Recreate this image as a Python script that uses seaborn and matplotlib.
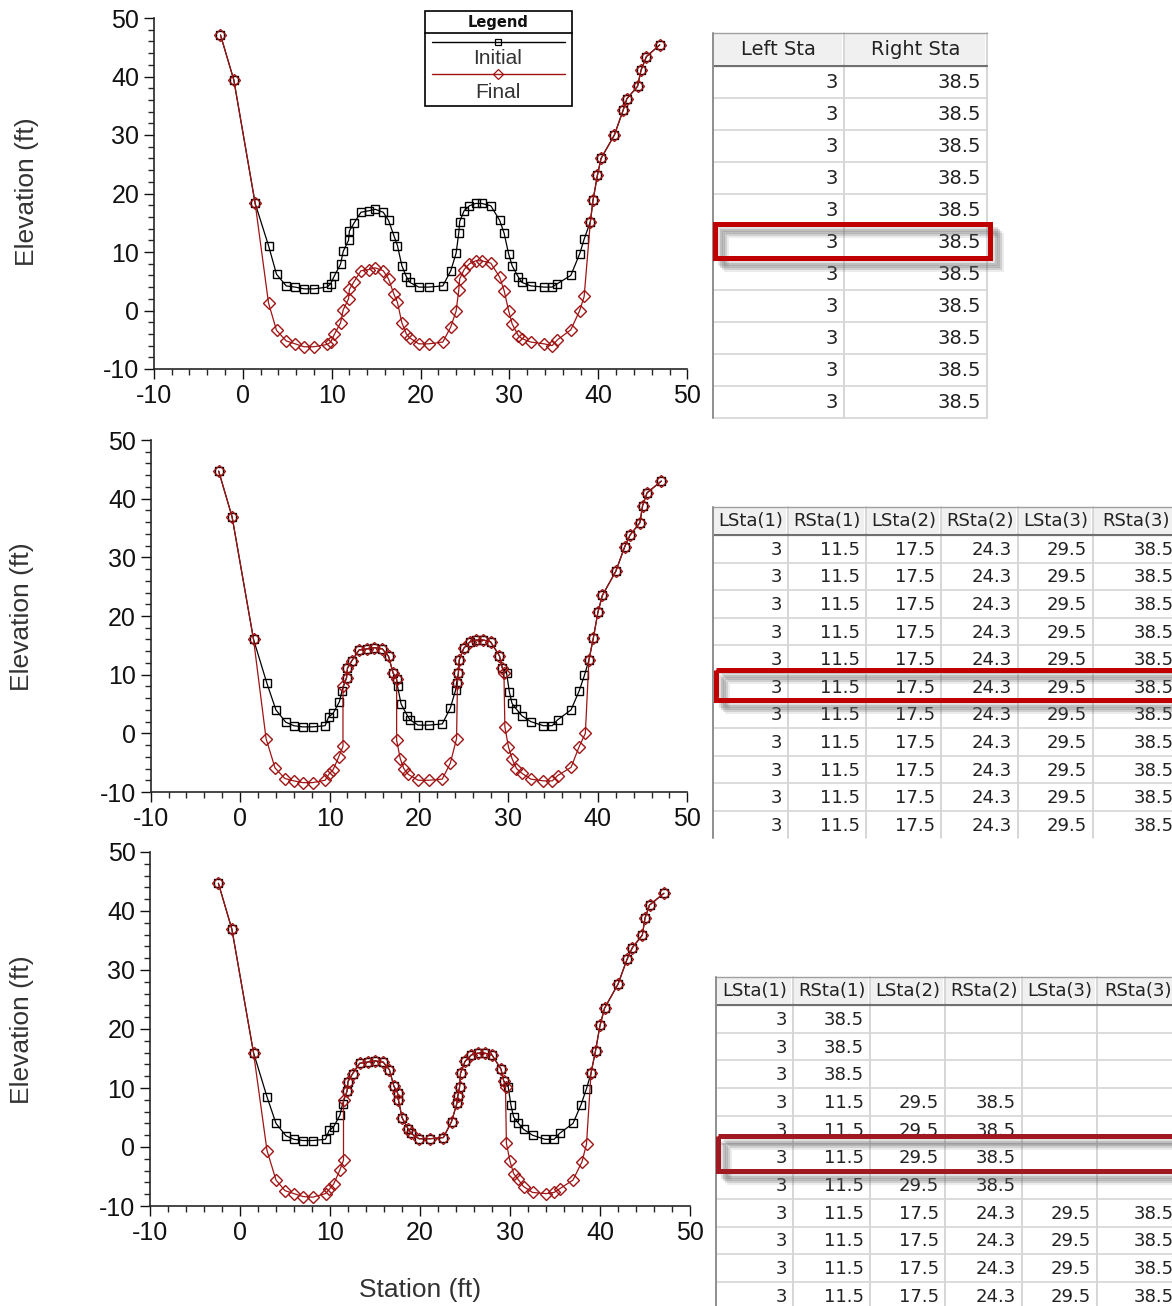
import matplotlib
matplotlib.use("Agg")
import matplotlib.pyplot as plt
import seaborn as sns
from matplotlib.patches import Rectangle
from matplotlib.lines import Line2D
from matplotlib.ticker import MultipleLocator

# ---- profile data ----
# top run: one scour window 3 - 38.5
sta_a = [-2.5, -1.0, 1.4, 2.9, 3.8, 4.9, 5.9, 6.9, 8.0, 9.5, 9.9, 10.3, 11.0, 11.3, 11.9, 12.0,
         12.5, 13.3, 14.2, 14.9, 15.8, 16.4, 17.0, 17.4, 17.9, 18.4, 18.8, 19.8, 20.9, 22.5,
         23.4, 24.0, 24.3, 24.4, 24.9, 25.5, 26.2, 26.9, 27.9, 28.9, 29.4, 29.9, 30.3, 31.0,
         31.4, 32.4, 33.9, 34.8, 35.4, 36.9, 37.9, 38.4, 39.1, 39.4, 39.9, 40.3, 41.8, 42.8,
         43.2, 44.4, 44.8, 45.4, 46.9]
elev_a_init = [47.1, 39.4, 18.3, 11.1, 6.2, 4.2, 4.0, 3.7, 3.7, 4.0, 4.6, 5.9, 7.9, 10.1, 12.0,
               13.6, 14.9, 16.8, 17.05, 17.3, 16.8, 15.4, 12.8, 11.1, 7.65, 5.8, 4.8, 4.0, 4.0,
               4.2, 6.8, 9.8, 13.3, 15.2, 17.05, 17.9, 18.3, 18.3, 17.9, 15.4, 13.2, 9.7, 7.65,
               5.7, 4.8, 4.2, 4.0, 4.0, 4.6, 6.0, 9.7, 12.2, 15.2, 18.9, 23.2, 26.0, 30.0, 34.3,
               36.2, 38.3, 41.1, 43.4, 45.4]
elev_a_final = [47.1, 39.4, 18.3, 1.3, -3.4, -5.2, -5.7, -6.2, -6.2, -5.8, -5.4, -4.1, -2.1, 0.1,
                2.0, 3.6, 4.9, 6.8, 7.0, 7.3, 6.8, 5.4, 2.8, 1.4, -2.1, -4.0, -4.7, -5.7, -5.7,
                -5.4, -2.8, -0.1, 3.5, 5.4, 7.0, 8.0, 8.5, 8.5, 8.1, 5.7, 3.4, 0.0, -2.3, -4.3,
                -4.8, -5.4, -5.7, -6.0, -5.0, -3.3, 0.0, 2.4, 15.2, 18.9, 23.2, 26.0, 30.0, 34.3,
                36.2, 38.3, 41.1, 43.4, 45.4]

# middle / bottom runs share the initial ground
sta_b = [-2.4, -0.9, 1.5, 3.0, 4.0, 5.1, 6.0, 7.0, 8.1, 9.5, 9.9, 10.4, 11.1, 11.4, 11.9, 12.0,
         12.5, 13.3, 14.2, 15.0, 15.9, 16.6, 17.1, 17.5, 17.6, 18.0, 18.7, 19.0, 19.9, 21.1,
         22.6, 23.5, 24.1, 24.2, 24.4, 24.5, 25.0, 25.7, 26.4, 27.2, 28.0, 29.0, 29.3, 29.8,
         30.1, 30.4, 30.9, 31.5, 32.5, 33.9, 34.9, 35.5, 37.0, 37.9, 38.5, 39.0, 39.5, 40.0,
         40.5, 42.0, 43.0, 43.6, 44.7, 45.0, 45.5, 47.1]
elev_b_init = [44.7, 36.9, 16.0, 8.5, 4.0, 1.9, 1.3, 1.1, 1.1, 1.3, 2.8, 3.4, 5.4, 7.3, 9.5, 11.1,
               12.4, 14.2, 14.4, 14.6, 14.4, 13.1, 10.3, 9.2, 8.0, 5.0, 3.0, 2.3, 1.4, 1.4, 1.6,
               4.3, 7.4, 8.6, 10.2, 12.5, 14.5, 15.6, 15.9, 15.9, 15.6, 13.2, 11.2, 10.2, 7.1,
               5.1, 4.1, 3.0, 2.0, 1.3, 1.3, 2.3, 4.0, 7.2, 9.9, 12.5, 16.3, 20.6, 23.5, 27.6,
               31.8, 33.8, 35.9, 38.8, 41.0, 43.0]

sta_b_fin2 = [-2.4, -0.9, 1.5, 2.9, 3.9, 5.0, 6.0, 7.0, 8.1, 9.5, 9.9, 10.4, 11.0, 11.5, 11.5,
              11.9, 12.0, 12.5, 13.3, 14.2, 15.0, 15.9, 16.6, 17.1, 17.5, 17.5, 17.9, 18.3, 18.8,
              19.9, 21.1, 22.6, 23.5, 24.2, 24.3, 24.4, 24.5, 25.0, 25.7, 26.4, 27.2, 28.0, 29.0,
              29.3, 29.5, 29.6, 30.0, 30.4, 30.9, 31.5, 32.5, 33.9, 34.9, 35.5, 37.0, 37.9, 38.6,
              39.0, 39.5, 40.0, 40.5, 42.0, 43.0, 43.6, 44.7, 45.0, 45.5, 47.1]
elev_b_fin2 = [44.7, 36.9, 16.0, -0.9, -5.9, -7.7, -8.1, -8.4, -8.4, -8.0, -7.0, -6.2, -4.1, -2.2,
               8.0, 9.5, 11.1, 12.4, 14.2, 14.4, 14.6, 14.4, 13.1, 10.3, 9.2, -1.2, -4.3, -6.0,
               -7.0, -8.0, -8.0, -7.8, -5.1, -0.9, 8.6, 10.2, 12.5, 14.5, 15.6, 15.9, 15.9, 15.6,
               13.2, 11.2, 10.2, 1.1, -2.3, -4.3, -6.0, -6.8, -7.8, -8.1, -8.1, -7.2, -5.8, -2.3,
               0.0, 12.5, 16.3, 20.6, 23.5, 27.6, 31.8, 33.8, 35.9, 38.8, 41.0, 43.0]

sta_b_fin3 = [-2.4, -0.9, 1.5, 3.0, 4.0, 5.0, 6.0, 7.0, 8.1, 9.5, 9.9, 10.4, 11.1, 11.5, 11.5,
              11.9, 12.0, 12.5, 13.3, 14.2, 15.0, 15.9, 16.6, 17.1, 17.5, 17.6, 18.0, 18.7, 19.0,
              19.9, 21.1, 22.6, 23.5, 24.1, 24.2, 24.4, 24.5, 25.0, 25.7, 26.4, 27.2, 28.0, 29.0,
              29.3, 29.5, 29.6, 30.0, 30.4, 30.9, 31.5, 32.5, 34.0, 34.9, 35.5, 37.0, 38.0, 38.5,
              39.0, 39.5, 40.0, 40.5, 42.0, 43.0, 43.6, 44.7, 45.0, 45.5, 47.1]
elev_b_fin3 = [44.7, 36.9, 16.0, -0.6, -5.6, -7.4, -7.9, -8.4, -8.5, -7.9, -7.2, -6.3, -3.9, -2.2,
               8.0, 9.5, 11.1, 12.4, 14.2, 14.4, 14.6, 14.4, 13.1, 10.3, 9.2, 8.0, 5.0, 3.0, 2.3,
               1.4, 1.4, 1.6, 4.3, 7.4, 8.6, 10.2, 12.5, 14.5, 15.6, 15.9, 15.9, 15.6, 13.2, 11.2,
               10.2, 0.6, -2.4, -4.5, -5.5, -6.7, -7.7, -7.9, -7.7, -7.1, -5.6, -2.5, 0.5, 12.5,
               16.3, 20.6, 23.5, 27.6, 31.8, 33.8, 35.9, 38.8, 41.0, 43.0]

# ---- station tables ----
tbl1_cols = ["Left Sta", "Right Sta"]
tbl1_rows = [["3", "38.5"], ["3", "38.5"], ["3", "38.5"], ["3", "38.5"], ["3", "38.5"],
             ["3", "38.5"], ["3", "38.5"], ["3", "38.5"], ["3", "38.5"], ["3", "38.5"],
             ["3", "38.5"]]
tbl_cols = ["LSta(1)", "RSta(1)", "LSta(2)", "RSta(2)", "LSta(3)", "RSta(3)"]
full_row = ["3", "11.5", "17.5", "24.3", "29.5", "38.5"]
tbl2_rows = [full_row] * 11
tbl3_rows = [["3", "38.5", "", "", "", ""], ["3", "38.5", "", "", "", ""],
             ["3", "38.5", "", "", "", ""],
             ["3", "11.5", "29.5", "38.5", "", ""], ["3", "11.5", "29.5", "38.5", "", ""],
             ["3", "11.5", "29.5", "38.5", "", ""], ["3", "11.5", "29.5", "38.5", "", ""],
             full_row, full_row, full_row, full_row]

INIT_C = "black"
FINAL_C = "#a01414"

sns.set_style("ticks")
plt.rcParams["font.family"] = ["Liberation Sans", "DejaVu Sans"]
plt.rcParams["axes.unicode_minus"] = False

W, H = 1172, 1306
fig = plt.figure(figsize=(W / 100, H / 100), dpi=100)


def rect(l, r, t, b):
    return [l / W, 1 - b / H, (r - l) / W, (b - t) / H]


def profile_axes(box, sta_i, el_i, sta_f, el_f):
    ax = fig.add_axes(rect(*box))
    sns.lineplot(x=sta_i, y=el_i, sort=False, estimator=None, ax=ax, color=INIT_C,
                 linewidth=0.9, marker="s", markersize=6.3, markerfacecolor="none",
                 markeredgecolor=INIT_C, markeredgewidth=1.0)
    sns.lineplot(x=sta_f, y=el_f, sort=False, estimator=None, ax=ax, color=FINAL_C,
                 linewidth=0.9, marker="D", markersize=6.3, markerfacecolor="none",
                 markeredgecolor=FINAL_C, markeredgewidth=1.0)
    ax.set_xlim(-10, 50)
    ax.set_ylim(-10, 50)
    ax.xaxis.set_major_locator(MultipleLocator(10))
    ax.xaxis.set_minor_locator(MultipleLocator(2))
    ax.yaxis.set_major_locator(MultipleLocator(10))
    ax.yaxis.set_minor_locator(MultipleLocator(2))
    ax.tick_params(which="major", length=7.5, width=1.0, direction="out",
                   labelsize=18, colors="#111111", pad=3)
    ax.tick_params(which="minor", length=4.3, width=1.0, direction="out")
    for s in ["left", "bottom"]:
        ax.spines[s].set_linewidth(1.2)
    sns.despine(ax=ax)
    ax.set_xlabel("")
    ax.set_ylabel("")
    return ax


ax1 = profile_axes((153.8, 687.3, 18, 369), sta_a, elev_a_init, sta_a, elev_a_final)
ax2 = profile_axes((150.7, 687.3, 440, 792), sta_b, elev_b_init, sta_b_fin2, elev_b_fin2)
ax3 = profile_axes((150.0, 690.0, 852, 1206), sta_b, elev_b_init, sta_b_fin3, elev_b_fin3)

for yc, xc in [(192, 27), (617, 22), (1030, 22)]:
    fig.text(xc / W, 1 - yc / H, "Elevation (ft)", rotation=90, ha="center", va="center",
             fontsize=19, color="#333333")
fig.text(420 / W, 1 - 1290 / H, "Station (ft)", ha="center", va="center",
         fontsize=19, color="#333333")

# overlay in pixel coordinates for legend and tables
ov = fig.add_axes([0, 0, 1, 1])
ov.set_xlim(0, W)
ov.set_ylim(H, 0)
ov.axis("off")

# legend box
ov.add_patch(Rectangle((425, 11), 147, 95, facecolor="white", edgecolor="black", lw=1.2))
ov.plot([425, 572], [33, 33], color="black", lw=1.2)
ov.text(498, 22, "Legend", ha="center", va="center", fontsize=10.5, fontweight="bold",
        family="DejaVu Sans", color="#111111")
ov.add_line(Line2D([432, 565], [42, 42], color=INIT_C, lw=1.0))
ov.add_line(Line2D([498], [42], marker="s", markersize=5, markerfacecolor="none",
                   markeredgecolor=INIT_C, markeredgewidth=0.9))
ov.text(498, 59, "Initial", ha="center", va="center", fontsize=15, color="#333333")
ov.add_line(Line2D([432, 565], [74, 74], color=FINAL_C, lw=1.0))
ov.add_line(Line2D([498], [74], marker="D", markersize=5, markerfacecolor="none",
                   markeredgecolor=FINAL_C, markeredgewidth=0.9))
ov.text(498, 92, "Final", ha="center", va="center", fontsize=15, color="#333333")


def draw_table(edges, top, head_h, row_h, headers, rows, hl_box, hl_color, fs=13,
               bottom_clip=None):
    x0, x1 = edges[0], edges[-1]
    n = len(rows)
    bot = top + head_h + n * row_h
    if bottom_clip is not None:
        bot = min(bot, bottom_clip)
    ov.add_patch(Rectangle((x0, top), x1 - x0, bot - top, facecolor="white",
                           edgecolor="none", zorder=1))
    # header
    for i, h in enumerate(headers):
        ov.add_patch(Rectangle((edges[i] + 1, top + 1), edges[i + 1] - edges[i] - 3,
                               head_h - 3, facecolor="#f0f0f0", edgecolor="none", zorder=2))
        ov.text((edges[i] + edges[i + 1]) / 2, top + head_h / 2, h, ha="center",
                va="center", fontsize=fs, family="DejaVu Sans", color="#222222", zorder=4)
    ov.plot([x0, x1], [top + head_h, top + head_h], color="#707070", lw=1.6, zorder=3)
    ov.plot([x0, x1], [top, top], color="#a0a0a0", lw=1.0, zorder=3)
    # grid
    for e in edges:
        ov.plot([e, e], [top, bot], color="#d0d0d0", lw=1.2, zorder=2)
    ov.plot([x0, x0], [top, bot], color="#909090", lw=1.4, zorder=3)
    for r in range(1, n + 1):
        y = top + head_h + r * row_h
        if y <= bot:
            ov.plot([x0, x1], [y, y], color="#d6d6d6", lw=1.2, zorder=2)
    for r, row in enumerate(rows):
        yc = top + head_h + (r + 0.5) * row_h
        if bottom_clip is not None and yc > bottom_clip:
            continue
        for i, v in enumerate(row):
            ov.text(edges[i + 1] - 6, yc + 1, v, ha="right", va="center", fontsize=fs,
                    family="DejaVu Sans", color="#222222", zorder=4)
    # highlighted row with soft shadow
    hx0, hx1, hy0, hy1 = hl_box
    for k, a in [(11, 0.12), (9, 0.2), (7, 0.25), (5, 0.2)]:
        ov.add_patch(Rectangle((hx0 + k, hy0 + k), hx1 - hx0, hy1 - hy0, facecolor="none",
                               edgecolor="#606060", lw=3.5, alpha=a, zorder=5))
    ov.add_patch(Rectangle((hx0, hy0), hx1 - hx0, hy1 - hy0, facecolor="none",
                           edgecolor=hl_color, lw=3.6, zorder=6))


draw_table([713, 844, 987], 33, 33, 32, tbl1_cols, tbl1_rows,
           (715, 990, 224, 258), "#c00000", fs=14)
draw_table([713, 788, 866, 941, 1018, 1093, 1180], 507, 28, 27.6, tbl_cols, tbl2_rows,
           (716, 1178, 670, 700), "#c00000", bottom_clip=838)
draw_table([716, 793, 870, 945, 1022, 1097, 1180], 977, 28, 27.7, tbl_cols, tbl3_rows,
           (718, 1178, 1136, 1171), "#a01820")

fig.savefig("out.png", dpi=100)
